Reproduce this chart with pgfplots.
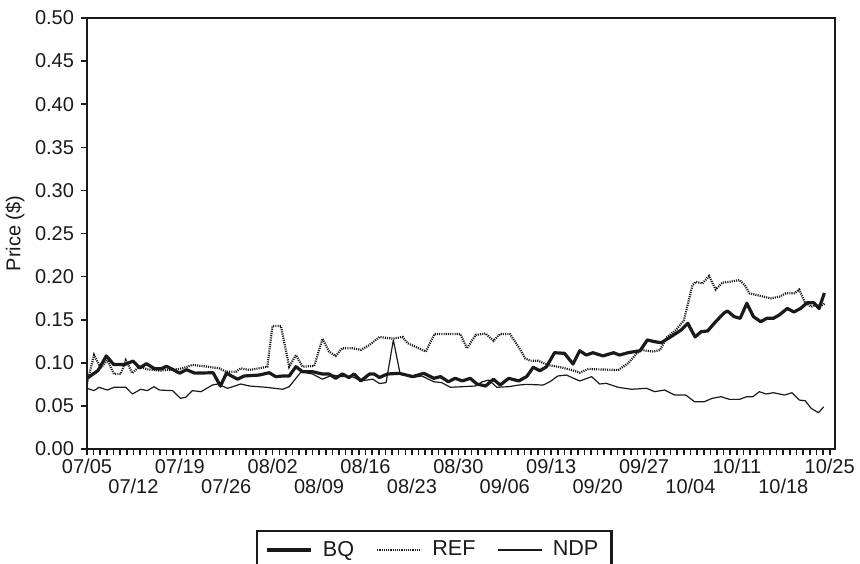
\documentclass[border=0pt]{standalone}
\usepackage{fontspec}
\setmainfont{Liberation Sans}
\usepackage{pgfplots}
\pgfplotsset{compat=1.18}
\definecolor{ink}{HTML}{1A1A1A}
\begin{document}
\begin{tikzpicture}
\begin{axis}[
  name=ax,
  scale only axis,
  width=374pt, height=215.5pt,
  xmin=0, xmax=112.8, ymin=0, ymax=0.5,
  axis line style={line width=1.2pt, ink},
  tick style={line width=0.8pt, ink},
  tick align=outside,
  major tick length=3pt, minor tick length=3pt,
  xtick pos=bottom, ytick pos=left,
  xtick={0,14,28,42,56,70,84,98,112},
  xticklabels={07/05,07/19,08/02,08/16,08/30,09/13,09/27,10/11,10/25},
  extra x ticks={7,21,35,49,63,77,91,105},
  extra x tick labels={07/12,07/26,08/09,08/23,09/06,09/20,10/04,10/18},
  extra x tick style={tick label style={yshift=-10pt}},
  minor xtick={0,1,...,112},
  ytick={0,0.05,0.1,0.15,0.2,0.25,0.3,0.35,0.4,0.45,0.5},
  yticklabel style={/pgf/number format/.cd, fixed, fixed zerofill, precision=2},
  xticklabel style={inner sep=1pt, yshift=-1pt},
  /pgf/number format/assume math mode=true,
  tick label style={font=\fontsize{10}{12}\selectfont, text=ink},
  ylabel={Price (\$)},
  ylabel style={at={(axis description cs:-0.0963,0.5)}, anchor=center, font=\fontsize{10}{12}\selectfont, text=ink},
  legend columns=3,
  legend style={at={(0.464,-0.1874)}, anchor=north, draw=ink, line width=1.2pt,
    font=\fontsize{10.8}{12}\selectfont, text=ink, inner xsep=4.5pt, inner ysep=3pt,
    /tikz/every odd column/.append style={column sep=3pt},
    /tikz/every even column/.append style={column sep=9pt}},
  legend image code/.code={\draw[#1] (0pt,0pt) -- (22pt,0pt);},
]
\addplot[ink, line width=1.6pt, line join=round] coordinates {
(0,0.082) (1.66,0.091) (2.91,0.108) (4.03,0.098) (5.69,0.098) (6.94,0.102)
(7.95,0.094) (8.95,0.099) (10.22,0.093) (11.22,0.093) (11.97,0.096) (12.98,0.092)
(13.99,0.088) (14.99,0.092) (16.26,0.088) (19.02,0.0885) (20.12,0.073) (21.03,0.088)
(22.69,0.081) (23.7,0.0847) (25.96,0.0858) (27.47,0.0885) (28.48,0.0839) (29.48,0.0847)
(30.49,0.0847) (31.5,0.0955) (32.5,0.0897) (34.0,0.0897) (35.5,0.087) (36.5,0.087)
(37.5,0.082) (38.5,0.087) (39.5,0.083) (40.3,0.087) (41.3,0.079) (42.6,0.087)
(43.3,0.087) (44.1,0.083) (45.3,0.087) (47.1,0.0878) (49.1,0.084) (50.8,0.0878)
(52.3,0.082) (53.3,0.084) (54.5,0.078) (55.5,0.082) (56.6,0.079) (57.8,0.082)
(58.8,0.0754) (60.1,0.0731) (61.3,0.0809) (62.3,0.0742) (63.6,0.082) (65.1,0.079)
(66.3,0.084) (67.3,0.0948) (68.3,0.0908) (69.3,0.0955) (70.5,0.1117) (72.0,0.111)
(73.3,0.0986) (74.3,0.114) (75.3,0.109) (76.3,0.1117) (77.8,0.108) (79.4,0.1117)
(80.3,0.109) (81.6,0.1117) (83.4,0.114) (84.5,0.1265) (85.6,0.1245) (86.6,0.1233)
(88.2,0.131) (89.6,0.138) (90.6,0.1458) (91.7,0.130) (92.6,0.136) (93.6,0.137)
(94.8,0.1477) (96.1,0.158) (96.6,0.160) (97.6,0.1535) (98.5,0.1516) (99.5,0.169)
(100.5,0.1535) (101.6,0.1477) (102.5,0.1516) (103.5,0.1516) (104.4,0.1555) (105.6,0.163)
(106.6,0.159) (107.6,0.163) (108.6,0.1697) (109.6,0.1697) (110.4,0.163) (111.2,0.181)
};
\addlegendentry{BQ}
\addplot[ink, line width=1.1pt, dash pattern=on 0.55pt off 0.55pt] coordinates {
(0,0.076) (1.06,0.109) (2.07,0.094) (3.06,0.103) (4.08,0.087) (5.09,0.087)
(5.84,0.103) (6.84,0.088) (7.85,0.0955) (9.1,0.0925) (10.87,0.091) (13.13,0.092)
(14.38,0.0936) (15.89,0.0975) (17.4,0.0963) (19.92,0.0936) (20.94,0.0897) (22.45,0.0897)
(23.2,0.0936) (24.45,0.0917) (25.96,0.0936) (27.2,0.0955) (27.97,0.1427) (29.24,0.1427)
(30.49,0.0955) (31.5,0.109) (32.5,0.0955) (34.26,0.0963) (35.52,0.128) (36.5,0.113)
(37.5,0.108) (38.5,0.117) (40.0,0.117) (41.3,0.115) (42.6,0.1207) (44.1,0.130)
(46.1,0.128) (47.6,0.130) (48.3,0.123) (49.5,0.1187) (51.1,0.113) (52.4,0.1334)
(56.3,0.1334) (57.3,0.1168) (58.6,0.1322) (60.1,0.134) (61.3,0.1256) (62.3,0.1334)
(63.8,0.1334) (65.1,0.118) (66.1,0.105) (66.8,0.1025) (68.0,0.1025) (69.5,0.0974)
(71.0,0.0955) (73.1,0.0916) (74.3,0.0885) (75.6,0.0928) (80.1,0.0916) (81.6,0.0994)
(82.9,0.111) (83.6,0.1148) (85.4,0.113) (86.4,0.1148) (87.5,0.130) (88.8,0.138)
(90.0,0.149) (91.3,0.190) (91.8,0.194) (92.8,0.192) (93.8,0.2007) (94.8,0.185)
(95.8,0.193) (96.9,0.194) (98.4,0.196) (99.2,0.190) (99.9,0.1806) (101.6,0.1775)
(103.1,0.1748) (104.4,0.1767) (105.4,0.1806) (106.7,0.1806) (107.4,0.185) (108.2,0.1709)
(109.2,0.165) (109.9,0.167) (110.7,0.166) (111.3,0.169)
};
\addlegendentry{REF}
\addplot[ink, line width=0.6pt, line join=round] coordinates {
(0,0.0704) (1.06,0.0677) (1.81,0.0716) (3.06,0.0684) (4.08,0.0716) (5.84,0.0716)
(6.84,0.0638) (8.1,0.0693) (9.1,0.0677) (10.1,0.0723) (10.9,0.0684) (12.9,0.0677)
(14.1,0.0588) (14.9,0.060) (15.9,0.0677) (17.2,0.0665) (18.9,0.0742) (19.7,0.0754)
(21.2,0.0704) (23.2,0.0754) (24.5,0.0731) (27.0,0.0716) (29.5,0.0693) (30.5,0.0723)
(32.3,0.0897) (34.0,0.087) (35.5,0.081) (37.0,0.0858) (38.5,0.084) (40.0,0.084)
(41.3,0.079) (43.1,0.081) (44.1,0.076) (45.1,0.077) (46.2,0.1265) (47.2,0.0878)
(49.1,0.083) (50.5,0.0847) (52.3,0.078) (53.5,0.077) (54.8,0.0716) (56.6,0.0723)
(58.6,0.0731) (59.6,0.078) (60.6,0.080) (61.8,0.0716) (63.6,0.0723) (65.1,0.0742)
(66.3,0.075) (68.8,0.0742) (69.8,0.078) (71.0,0.0847) (72.3,0.0858) (74.3,0.0789)
(76.1,0.0839) (77.3,0.0754) (78.3,0.0762) (80.1,0.0716) (82.1,0.0693) (84.4,0.0704)
(85.6,0.0665) (87.1,0.0684) (88.6,0.0626) (90.3,0.0626) (91.6,0.0549) (93.1,0.0549)
(94.3,0.0588) (95.6,0.0607) (96.9,0.0576) (98.4,0.0576) (99.5,0.0607) (100.4,0.0607)
(101.4,0.0665) (102.4,0.0638) (103.5,0.0653) (105.2,0.0626) (106.3,0.0653) (107.4,0.0568)
(108.3,0.056) (109.2,0.0472) (110.3,0.0421) (111.1,0.049)
};
\addlegendentry{NDP}
\end{axis}
\pgfresetboundingbox
\path[use as bounding box] ([xshift=-43.5pt,yshift=-57pt]ax.south west) rectangle ([xshift=12.5pt,yshift=9pt]ax.north east);
\end{tikzpicture}
\end{document}
